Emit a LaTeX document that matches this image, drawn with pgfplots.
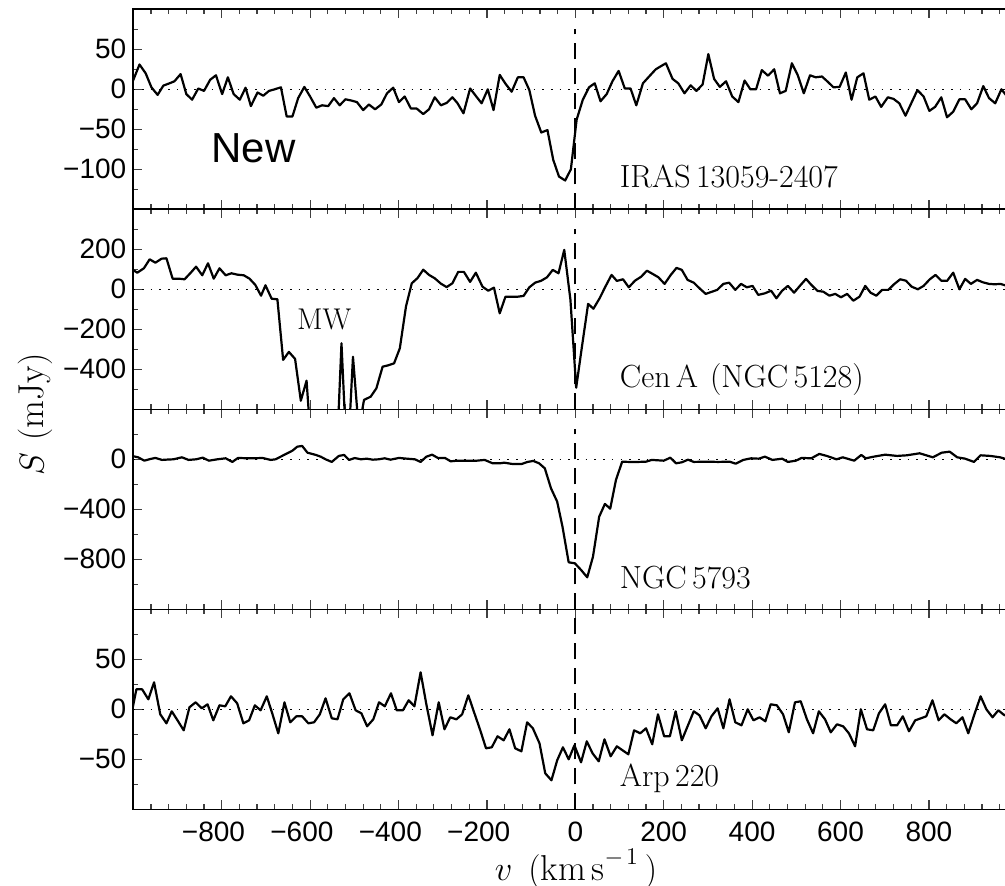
\documentclass[border=0pt]{standalone}
\usepackage{fontspec}
\usepackage{pgfplots}
\pgfplotsset{compat=1.18}
\newfontfamily\ticksans{Liberation Sans}

\tikzset{lab/.style={anchor=base west, inner sep=0pt, font=\fontsize{16}{19}\selectfont}}
\pgfplotsset{
  panel/.style={
    scale only axis, width=442pt, height=100pt,
    xmin=-1000, xmax=1000,
    xtick={-1000,-800,...,1000},
    minor x tick num=4,
    minor y tick num=1,
    major tick length=4.5pt, minor tick length=2.5pt,
    tick align=inside,
    tick style={line width=0.6pt, black!75},
    axis line style={line width=0.8pt},
    ticklabel style={font=\ticksans\fontsize{14}{16}\selectfont},
    yticklabel style={inner sep=0pt, xshift=-3.3pt},
    xticklabel style={inner sep=0pt, yshift=-6.3pt},
    xticklabels={},
    anchor=south west,
  },
  spec/.style={black, line width=1.1pt, line join=round, mark=none},
  zero/.style={black, line width=0.6pt, dash pattern=on 0.8pt off 3.55pt, mark=none},
  vsys/.style={black, line width=1.0pt, dash pattern=on 8pt off 4.5pt, mark=none},
}

\begin{document}
\begin{tikzpicture}
% ---------------- Panel 1: IRAS 13059-2407 ----------------
\begin{axis}[panel, at={(0pt,300pt)},
  ymin=-150, ymax=100,
  ytick={-150,-100,...,100},
  yticklabels={,−100,−50,0,50,}]
\addplot[zero] coordinates {(-1000,0) (1000,0)};
\addplot[spec] coordinates {
(-1003,7.5) (-986,31) (-972,20) (-959,2.5) (-945,-7) (-932,4.6) (-918,7.5) (-907,10)
(-893,19) (-880,-6) (-867,-13) (-853,1) (-840,-2) (-826,12) (-813,17.5) (-799,-6)
(-786,15) (-773,-6) (-759,-13) (-746,2) (-734,-21) (-719,-4) (-706,-8) (-693,-2)
(-680,0) (-666,2.5) (-653,-34) (-640,-34) (-627,-11) (-613,3) (-600,-9) (-586,-23)
(-573,-20) (-559,-21) (-546,-11) (-533,-20) (-520,-12.5) (-507,-14) (-494,-16) (-480,-26)
(-467,-19) (-453,-25) (-439,-19) (-426,-5) (-412,2) (-399,-16) (-386,-9) (-372,-24)
(-359,-24) (-344,-31) (-331,-25) (-318,-10) (-304,-20) (-291,-17) (-278,-10) (-267,-17)
(-253,-30) (-238,1) (-224,-9) (-212,-17.5) (-198,0) (-185,-26) (-171,18) (-158,7)
(-144,-3) (-130,15) (-117,15) (-104,-1) (-91,-33) (-77,-54) (-63,-51) (-50,-88)
(-37,-109) (-23,-114) (-10,-100) (3,-38) (17,-13) (31,2.5) (44,7.5) (57,-15)
(71,-6) (84,10) (98,23) (112,1) (125,1) (138,-20) (153,7.5) (167,16)
(182,25) (194,29) (205,32.5) (220,13) (233,7.5) (247,-5) (261,5) (274,-2)
(288,6) (301,44) (314,13) (327,3) (341,10) (355,-9) (369,-16) (383,11)
(396,0) (409,0) (422,24) (436,17) (450,25) (463,-5) (476,-2) (490,32.5)
(503,18) (517,-5) (531,17.5) (544,15) (558,16) (571,9.5) (584,2.5) (598,3)
(612,21) (625,-13) (638,15) (652,20) (665,-13) (679,-9) (692,-22) (707,-10)
(720,-12) (733,-17.5) (747,-33) (760,-17.5) (774,-1) (788,-9) (801,-27) (814,-22)
(828,-10) (841,-35) (855,-28) (869,-12.5) (882,-12.5) (896,-25) (909,-17.5) (923,4)
(936,-11) (950,-17.5) (964,0) (977,-9) (990,-5) (1003,-8)
};
\addplot[vsys] coordinates {(0,-150) (0,75)};
\node[anchor=base west, inner sep=0pt, font=\ticksans\fontsize{21}{24}\selectfont] at (axis cs:-824,-91) {New};
\node[lab] at (axis cs:100,-123) {IRAS\,13059-2407};
\end{axis}

% ---------------- Panel 2: Cen A ----------------
\begin{axis}[panel, at={(0pt,200pt)},
  ymin=-600, ymax=400,
  ytick={-600,-400,...,400},
  yticklabels={,−400,−200,0,200,}]
\addplot[zero] coordinates {(-1000,0) (1000,0)};
\addplot[spec] coordinates {
(-1003,100) (-991,83) (-976,105) (-963,150) (-950,133) (-936,153) (-925,155) (-911,53)
(-897,53) (-884,50) (-870,83) (-858,113) (-844,70) (-831,130) (-818,53) (-805,105)
(-791,70) (-778,80) (-764,73) (-750,70) (-737,53) (-724,22) (-711,-32) (-701,20)
(-687,-47) (-674,-50) (-661,-353) (-648,-313) (-634,-348) (-621,-557) (-608,-457) (-594,-900)
(-581,-900) (-567,-900) (-554,-900) (-541,-900) (-529,-270) (-516,-900) (-503,-337) (-490,-700)
(-478,-553) (-463,-537) (-450,-495) (-436,-387) (-423,-380) (-410,-370) (-397,-295) (-383,-85)
(-370,30) (-357,56) (-344,98) (-331,72) (-318,55) (-304,28) (-291,11) (-278,30)
(-265,87) (-252,87) (-238,37) (-225,83) (-210,13) (-197,-7) (-184,8) (-171,-120)
(-158,-37) (-143,-37) (-130,-37) (-117,-33) (-104,10) (-91,33) (-77,43) (-64,60)
(-51,97) (-38,80) (-25,197) (-11,-53) (2,-492) (15,-287) (29,-73) (41,-97)
(55,-45) (68,13) (82,72) (94,42) (108,50) (121,10) (135,43) (149,63)
(162,93) (175,77) (188,60) (202,27) (216,72) (229,107) (241,97) (254,47)
(268,33) (281,5) (295,-23) (308,-13) (321,-3) (335,27) (348,33) (362,-3)
(375,27) (388,10) (401,17) (414,-28) (429,-20) (443,-7) (455,-45) (468,-7)
(481,17) (495,-17) (508,17) (522,52) (534,22) (548,-8) (561,-12) (575,-32)
(588,-23) (601,-40) (615,-23) (629,-57) (643,-37) (656,17) (668,-17) (681,-32)
(694,-3) (708,-3) (721,25) (735,50) (748,43) (761,13) (775,0) (788,17)
(802,50) (815,72) (828,43) (841,42) (855,83) (869,0) (882,52) (895,27)
(909,47) (922,35) (936,27) (949,25) (962,27) (975,18) (988,30) (1001,25)
};
\addplot[vsys] coordinates {(0,-600) (0,300)};
\node[lab, font=\fontsize{15}{18}\selectfont] at (axis cs:-630,-203) {MW};
\node[lab] at (axis cs:100,-493) {Cen\,A\hspace{6pt}(NGC\,5128)};
\end{axis}

% ---------------- Panel 3: NGC 5793 ----------------
\begin{axis}[panel, at={(0pt,100pt)},
  ymin=-1200, ymax=400,
  ytick={-1200,-800,-400,0,400},
  yticklabels={,−800,−400,0,}]
\addplot[zero] coordinates {(-1000,0) (1000,0)};
\addplot[spec] coordinates {
(-1003,27) (-989,16) (-975,-11) (-962,2) (-950,11) (-935,-5) (-922,-2) (-909,0)
(-890,16) (-875,-5) (-858,0) (-843,13) (-829,-11) (-810,0) (-791,8) (-776,-21)
(-763,11) (-742,8) (-725,8) (-708,11) (-689,-5) (-678,0) (-659,35) (-640,69)
(-629,101) (-618,107) (-606,53) (-587,35) (-576,21) (-565,0) (-551,-21) (-535,27)
(-523,35) (-512,-5) (-499,10) (-485,0) (-472,5) (-458,-3) (-445,0) (-431,8)
(-418,-3) (-399,11) (-381,5) (-363,0) (-350,-21) (-337,21) (-324,37) (-311,11)
(-295,11) (-282,-16) (-267,-11) (-240,-11) (-223,-11) (-205,-5) (-187,-32) (-170,-32)
(-161,-27) (-143,-37) (-121,-37) (-108,-21) (-95,-13) (-82,-32) (-69,-72) (-55,-232)
(-41,-339) (-29,-539) (-15,-824) (-1,-832) (13,-885) (27,-944) (40,-779) (54,-459)
(67,-357) (79,-395) (92,-165) (106,-19) (121,-21) (143,-21) (160,-19) (173,-5)
(200,-11) (215,13) (228,-32) (241,-24) (255,-3) (268,-21) (297,-19) (323,-21)
(349,-19) (363,-35) (380,-5) (398,8) (415,5) (429,21) (446,-5) (468,5)
(481,-21) (499,-11) (512,11) (534,8) (552,43) (569,27) (591,0) (605,16)
(631,-11) (647,35) (657,8) (675,21) (701,37) (728,27) (750,32) (779,48)
(809,16) (829,53) (847,61) (864,16) (882,5) (902,-21) (917,32) (939,27)
(961,16) (981,-5) (1000,5)
};
\addplot[vsys] coordinates {(0,-1200) (0,240)};
\node[lab] at (axis cs:100,-1032) {NGC\,5793};
\end{axis}

% ---------------- Panel 4: Arp 220 ----------------
\begin{axis}[panel, at={(0pt,0pt)},
  ymin=-100, ymax=100,
  ytick={-100,-50,0,50,100},
  yticklabels={,−50,0,50,},
  xticklabels={,\llap{−}800,\llap{−}600,\llap{−}400,\llap{−}200,0,200,400,600,800,}]
\addplot[zero] coordinates {(-1000,0) (1000,0)};
\addplot[spec] coordinates {
(-1002,0) (-993,20) (-980,20) (-966,10) (-953,27) (-939,-5) (-925,-14) (-913,-2)
(-900,-11) (-886,-21) (-873,2) (-859,7) (-845,1) (-832,5) (-819,-11) (-805,4)
(-792,3) (-779,13) (-765,6) (-751,-14) (-738,-11) (-725,4) (-712,-1) (-698,13)
(-685,-5) (-672,-24) (-658,7) (-645,-13) (-631,-7) (-618,-7) (-604,-14) (-591,-13)
(-578,-5) (-565,11) (-551,-9) (-538,-10) (-525,10) (-511,16) (-497,-1) (-484,-4)
(-471,-17) (-457,-10) (-444,7) (-431,3) (-417,16) (-404,-1) (-390,-1) (-377,9)
(-364,3) (-350,37) (-337,5) (-323,-26) (-309,7) (-296,-20) (-283,-8) (-269,-10)
(-256,-5) (-242,14) (-229,-3) (-215,-21) (-202,-39) (-189,-38) (-176,-27) (-162,-31)
(-149,-20) (-136,-39) (-122,-42) (-109,-13) (-96,-19) (-81,-34) (-68,-64) (-54,-71)
(-41,-51) (-28,-38) (-15,-50) (-2,-36) (13,-53) (26,-32) (39,-44) (53,-52)
(66,-30) (80,-47) (94,-37) (107,-41) (120,-45) (133,-21) (147,-24) (160,-19)
(174,-35) (187,-5) (201,-27) (214,-27) (227,-2) (241,-31) (254,-17) (268,-2)
(281,-6) (295,-19) (308,-7) (322,1) (335,-19) (349,10) (362,-13) (376,-16)
(390,0) (403,-11) (417,-8) (430,-12) (442,5) (456,4) (470,-5) (483,-23)
(497,7) (510,8) (524,-10) (538,-24) (551,-2) (565,-10) (578,-23) (592,-15)
(606,-17) (619,-24) (633,-37) (646,0) (660,-20) (674,-21) (687,-4) (701,5)
(714,-16) (728,-16) (741,-7) (755,-22) (769,-11) (782,-9) (794,-7) (808,9)
(822,-11) (835,-5) (849,-10) (862,-14) (876,-8) (889,-24) (903,-5) (917,13)
(930,0) (944,-8) (957,-1) (971,-6) (985,-4) (998,0)
};
\addplot[vsys] coordinates {(0,-100) (0,100)};
\node[lab] at (axis cs:100,-77) {Arp\,220};
\end{axis}

% axis labels
\node[rotate=90, inner sep=0pt, font=\fontsize{18}{21}\selectfont] at (-49.15pt,197.4pt) {$S\hspace{6pt}(\mathrm{mJy})$};
\node[anchor=base, inner sep=0pt, font=\fontsize{18}{21}\selectfont] at (221.35pt,-35.5pt) {$v\hspace{8pt}(\mathrm{km\,s}^{-\hspace{1.5pt}1}\hspace{3pt})$};

\pgfresetboundingbox
\useasboundingbox (-66.65pt,-37.85pt) rectangle (435.85pt,404.65pt);
\end{tikzpicture}
\end{document}
